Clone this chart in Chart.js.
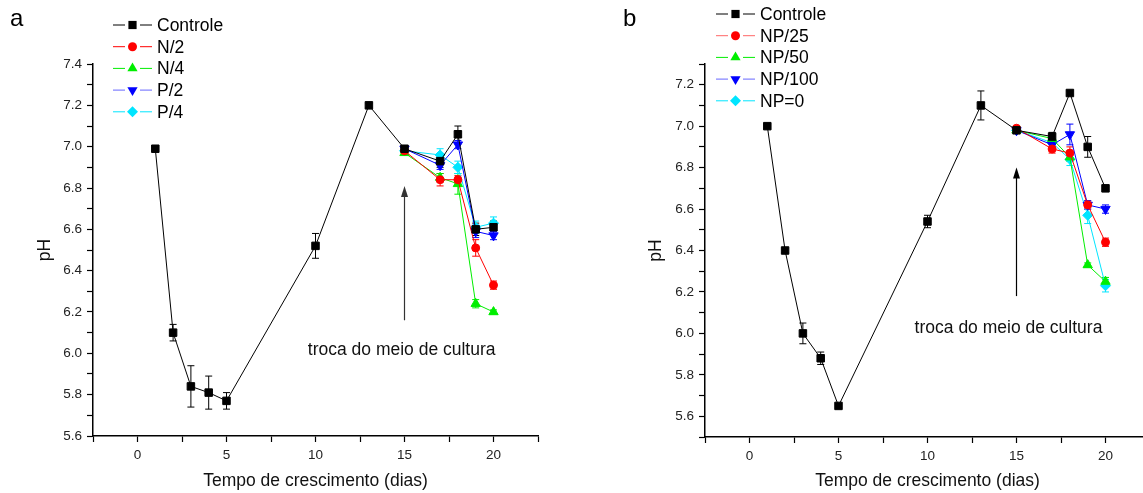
<!DOCTYPE html>
<html>
<head>
<meta charset="utf-8">
<script src="https://cdn.jsdelivr.net/npm/chart.js@4.4.1/dist/chart.umd.min.js"></script>
<style>
html, body { margin: 0; padding: 0; background: #fff; overflow: hidden; }
#wrap { position: relative; width: 1143px; height: 493px; }
.panel { position: absolute; top: 0; height: 493px; }
#pa { left: 0; width: 572px; }
#pb { left: 572px; width: 600px; }
.letter { position: absolute; font-family: "Liberation Sans", Arial, sans-serif; font-size: 24px; color: #000; line-height: 1; }
</style>
</head>
<body>
<div id="wrap">
  <div class="panel" id="pa"><canvas id="chartA"></canvas></div>
  <div class="panel" id="pb"><canvas id="chartB"></canvas></div>
  <div class="letter" style="left:10px;top:6px">a</div>
  <div class="letter" style="left:623px;top:6px">b</div>
</div>
<script>
// growth days
const days = [1, 2, 3, 4, 5, 10, 13, 15, 17, 18, 19, 20];
const daysAfter = [15, 17, 18, 19, 20];

// panel a
const ctrlA    = [6.99, 6.10, 5.84, 5.81, 5.77, 6.52, 7.20, 6.99, 6.93, 7.06, 6.60, 6.61];
const ctrlAErr = [0, 0.04, 0.10, 0.08, 0.04, 0.06, 0.01, 0.01, 0.03, 0.04, 0.03, 0.03];
const n2    = [6.98, 6.84, 6.84, 6.51, 6.33];
const n2Err = [0.01, 0.03, 0.02, 0.04, 0.02];
const n4    = [6.97, 6.85, 6.82, 6.24, 6.20];
const n4Err = [0.01, 0.02, 0.05, 0.02, 0.01];
const p2    = [6.99, 6.91, 7.01, 6.59, 6.57];
const p2Err = [0.01, 0.02, 0.02, 0.03, 0.02];
const p4    = [6.98, 6.96, 6.90, 6.61, 6.63];
const p4Err = [0.01, 0.03, 0.03, 0.03, 0.03];

// panel b
const ctrlB    = [7.00, 6.40, 6.00, 5.88, 5.65, 6.54, 7.10, 6.98, 6.95, 7.16, 6.90, 6.70];
const ctrlBErr = [0, 0.01, 0.05, 0.03, 0.01, 0.03, 0.07, 0.01, 0.02, 0.01, 0.05, 0.01];
const np25     = [6.99, 6.89, 6.87, 6.62, 6.44];
const np25Err  = [0.01, 0.02, 0.03, 0.02, 0.02];
const np50     = [6.98, 6.94, 6.85, 6.33, 6.25];
const np50Err  = [0.01, 0.02, 0.02, 0.01, 0.02];
const np100    = [6.98, 6.91, 6.96, 6.62, 6.60];
const np100Err = [0.01, 0.02, 0.05, 0.02, 0.02];
const np0      = [6.98, 6.92, 6.84, 6.57, 6.23];
const np0Err   = [0.01, 0.02, 0.03, 0.04, 0.03];

// tick labels
const xTickLabels = [0, 5, 10, 15, 20];
const yTickLabelsA = [5.6, 5.8, 6.0, 6.2, 6.4, 6.6, 6.8, 7.0, 7.2, 7.4];
const yTickLabelsB = [5.6, 5.8, 6.0, 6.2, 6.4, 6.6, 6.8, 7.0, 7.2];

const FONT = '"Liberation Sans", Arial, sans-serif';
const MARKER_R = { rect: 5.3, circle: 4, triangle: 5.4, rectRot: 5 };

function series(label, xs, ys, errs, color, pointStyle, rotation) {
  return {
    label: label,
    data: xs.map((x, i) => ({ x: x, y: ys[i] })),
    errors: errs,
    borderColor: color,
    backgroundColor: color,
    pointBackgroundColor: color,
    pointBorderColor: color,
    pointStyle: pointStyle,
    pointRotation: rotation || 0,
    pointRadius: MARKER_R[pointStyle],
    pointBorderWidth: 1,
    borderWidth: 1,
    tension: 0
  };
}

// vertical error bars under the markers
const errorBars = {
  id: 'errorBars',
  beforeDatasetsDraw(chart) {
    const ctx = chart.ctx;
    const ys = chart.scales.y;
    chart.data.datasets.forEach((ds, i) => {
      const meta = chart.getDatasetMeta(i);
      ctx.save();
      ctx.strokeStyle = ds.borderColor;
      ctx.lineWidth = 1;
      meta.data.forEach((pt, j) => {
        const e = ds.errors[j];
        if (!e) return;
        const v = ds.data[j].y;
        const t = ys.getPixelForValue(v + e);
        const b = ys.getPixelForValue(v - e);
        ctx.beginPath();
        ctx.moveTo(pt.x, t); ctx.lineTo(pt.x, b);
        ctx.moveTo(pt.x - 3.5, t); ctx.lineTo(pt.x + 3.5, t);
        ctx.moveTo(pt.x - 3.5, b); ctx.lineTo(pt.x + 3.5, b);
        ctx.stroke();
      });
      ctx.restore();
    });
  }
};

// legend in the top-left corner, Origin style
const sideLegend = {
  id: 'sideLegend',
  afterDraw(chart, args, o) {
    const ctx = chart.ctx;
    const area = chart.chartArea;
    const x0 = area.left + o.dx;
    const y0 = area.top + o.dy;
    chart.data.datasets.forEach((ds, i) => {
      const y = y0 + i * o.gap;
      ctx.save();
      ctx.strokeStyle = ds.borderColor;
      ctx.lineWidth = 1;
      ctx.globalAlpha = o.lineAlpha[i];
      ctx.beginPath();
      ctx.moveTo(x0, y); ctx.lineTo(x0 + 12, y);
      ctx.moveTo(x0 + 27, y); ctx.lineTo(x0 + 39, y);
      ctx.stroke();
      ctx.globalAlpha = 1;
      ctx.fillStyle = ds.pointBackgroundColor;
      Chart.helpers.drawPoint(ctx, {
        pointStyle: ds.pointStyle, radius: ds.pointRadius + 0.5,
        rotation: ds.pointRotation, borderWidth: 0
      }, x0 + 19.5, y);
      ctx.fillStyle = '#000';
      ctx.font = '17.5px ' + FONT;
      ctx.textAlign = 'left';
      ctx.textBaseline = 'middle';
      ctx.fillText(ds.label, x0 + 44, y + 1);
      ctx.restore();
    });
  }
};

// arrow + "troca do meio de cultura"
const note = {
  id: 'note',
  afterDraw(chart, args, o) {
    const ctx = chart.ctx;
    const xs = chart.scales.x, ys = chart.scales.y;
    const px = xs.getPixelForValue(o.arrowX);
    const pb = ys.getPixelForValue(o.arrowFrom);
    const pt = ys.getPixelForValue(o.arrowTo);
    ctx.save();
    ctx.strokeStyle = o.color;
    ctx.fillStyle = o.color;
    ctx.lineWidth = 1.2;
    ctx.beginPath();
    ctx.moveTo(px, pb); ctx.lineTo(px, pt + 8);
    ctx.stroke();
    ctx.beginPath();
    ctx.moveTo(px, pt); ctx.lineTo(px - 3.5, pt + 11); ctx.lineTo(px + 3.5, pt + 11);
    ctx.closePath();
    ctx.fill();
    ctx.fillStyle = '#111';
    ctx.font = '17.5px ' + FONT;
    ctx.textAlign = 'center';
    ctx.textBaseline = 'alphabetic';
    ctx.fillText(o.text, xs.getPixelForValue(o.textX), ys.getPixelForValue(o.textY));
    ctx.restore();
  }
};

function hasTick(list, v) {
  return list.some(t => Math.abs(t - v) < 1e-6);
}

function makeChart(id, datasets, cfg) {
  return new Chart(document.getElementById(id), {
    type: 'line',
    data: { datasets: datasets },
    options: {
      responsive: true,
      maintainAspectRatio: false,
      animation: false,
      events: [],
      layout: { padding: { left: 0, right: cfg.padRight, top: 64, bottom: 0 } },
      plugins: {
        legend: { display: false },
        tooltip: { enabled: false },
        sideLegend: cfg.legend,
        note: cfg.note
      },
      scales: {
        x: {
          type: 'linear',
          min: -2.5, max: 22.5,
          afterFit: s => { s.height = cfg.xHeight; },
          ticks: {
            stepSize: 2.5, autoSkip: false, maxRotation: 0, padding: 5,
            color: '#222', font: { family: FONT, size: 13.5 },
            callback: v => hasTick(xTickLabels, v) ? String(v) : ''
          },
          grid: { drawOnChartArea: false, tickLength: 6, tickColor: '#000', tickWidth: 1.2 },
          border: { color: '#000', width: 1.5 },
          title: {
            display: true, text: 'Tempo de crescimento (dias)', color: '#111',
            font: { family: FONT, size: 17.5 }, padding: { top: 0, bottom: 1.5 }
          }
        },
        y: {
          min: cfg.yMin, max: cfg.yMax,
          afterFit: s => { s.width = cfg.yWidth; },
          ticks: {
            stepSize: 0.1, autoSkip: false, padding: 5,
            color: '#222', font: { family: FONT, size: 13.5 },
            callback: v => hasTick(cfg.yLabels, v) ? v.toFixed(1) : ''
          },
          grid: { drawOnChartArea: false, tickLength: 6, tickColor: '#000', tickWidth: 1.2 },
          border: { color: '#000', width: 1.5 },
          title: {
            display: true, text: 'pH', color: '#111',
            font: { family: FONT, size: 17.5 }, padding: { top: cfg.titlePad, bottom: 0 }
          }
        }
      }
    },
    plugins: [errorBars, sideLegend, note]
  });
}

makeChart('chartA', [
  series('Controle', days, ctrlA, ctrlAErr, '#000000', 'rect'),
  series('N/2', daysAfter, n2, n2Err, '#ff0000', 'circle'),
  series('N/4', daysAfter, n4, n4Err, '#00ee00', 'triangle'),
  series('P/2', daysAfter, p2, p2Err, '#0000ff', 'triangle', 180),
  series('P/4', daysAfter, p4, p4Err, '#00e5ff', 'rectRot')
], {
  padRight: 34, xHeight: 57, yWidth: 93, titlePad: 35,
  yMin: 5.6, yMax: 7.4, yLabels: yTickLabelsA,
  legend: { dx: 20, dy: -39, gap: 21.7, lineAlpha: [1, 1, 1, 0.6, 1] },
  note: { arrowX: 15, arrowFrom: 6.16, arrowTo: 6.81, color: '#333',
          text: 'troca do meio de cultura', textX: 14.84, textY: 5.99 }
});

makeChart('chartB', [
  series('Controle', days, ctrlB, ctrlBErr, '#000000', 'rect'),
  series('NP/25', daysAfter, np25, np25Err, '#ff0000', 'circle'),
  series('NP/50', daysAfter, np50, np50Err, '#00ee00', 'triangle'),
  series('NP/100', daysAfter, np100, np100Err, '#0000ff', 'triangle', 180),
  series('NP=0', daysAfter, np0, np0Err, '#00e5ff', 'rectRot')
], {
  padRight: 22, xHeight: 56, yWidth: 133, titlePad: 73.5,
  yMin: 5.5, yMax: 7.3, yLabels: yTickLabelsB,
  legend: { dx: 11, dy: -50, gap: 21.7, lineAlpha: [1, 0.6, 1, 0.6, 1] },
  note: { arrowX: 15, arrowFrom: 6.18, arrowTo: 6.80, color: '#000',
          text: 'troca do meio de cultura', textX: 14.55, textY: 6.00 }
});
</script>
</body>
</html>
